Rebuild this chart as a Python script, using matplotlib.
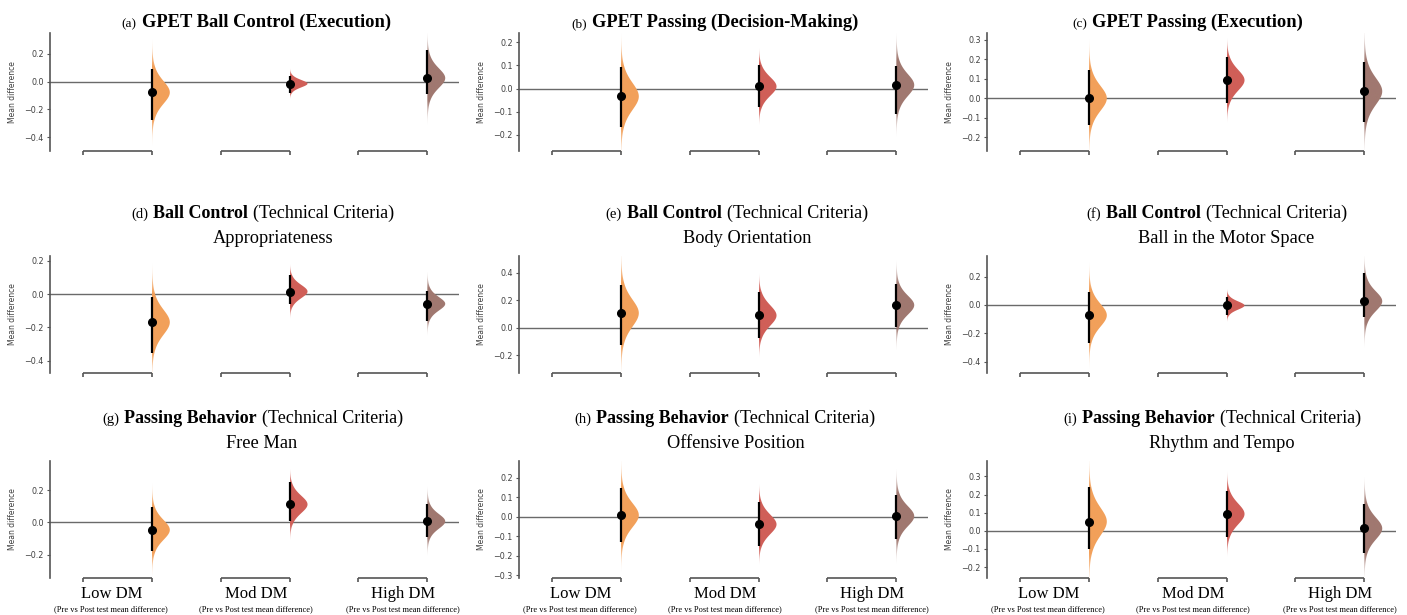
import numpy as np
import matplotlib
matplotlib.use("Agg")
import matplotlib.pyplot as plt
from matplotlib.ticker import MultipleLocator
from matplotlib.patches import Polygon
from matplotlib.colors import to_rgb

# groups and labels
groups = ["Low DM", "Mod DM", "High DM"]
group_note = "(Pre vs Post test mean difference)"
group_colors = ["#F2A05A", "#D05F58", "#A07870"]

panel_tags = ["(a)", "(b)", "(c)", "(d)", "(e)", "(f)", "(g)", "(h)", "(i)"]
title_bold = ["GPET Ball Control (Execution)", "GPET Passing (Decision-Making)",
              "GPET Passing (Execution)", "Ball Control", "Ball Control", "Ball Control",
              "Passing Behavior", "Passing Behavior", "Passing Behavior"]
title_rest = ["", "", "", "(Technical Criteria)", "(Technical Criteria)", "(Technical Criteria)",
              "(Technical Criteria)", "(Technical Criteria)", "(Technical Criteria)"]
subtitles = ["", "", "", "Appropriateness", "Body Orientation", "Ball in the Motor Space",
             "Free Man", "Offensive Position", "Rhythm and Tempo"]

# mean difference and 95% CI per panel (Low, Mod, High)
mean_diff = [
    [-0.078, -0.015, 0.025],
    [-0.034, 0.009, 0.015],
    [0.000, 0.093, 0.036],
    [-0.169, 0.016, -0.058],
    [0.105, 0.088, 0.163],
    [-0.073, -0.004, 0.026],
    [-0.047, 0.111, 0.006],
    [0.007, -0.040, 0.002],
    [0.051, 0.093, 0.013],
]
ci_low = [
    [-0.275, -0.080, -0.087],
    [-0.166, -0.080, -0.112],
    [-0.139, -0.026, -0.119],
    [-0.355, -0.062, -0.163],
    [-0.128, -0.073, 0.005],
    [-0.267, -0.072, -0.084],
    [-0.180, 0.008, -0.089],
    [-0.129, -0.150, -0.117],
    [-0.100, -0.035, -0.122],
]
ci_high = [
    [0.090, 0.040, 0.227],
    [0.095, 0.102, 0.098],
    [0.146, 0.211, 0.186],
    [-0.018, 0.117, 0.018],
    [0.310, 0.260, 0.313],
    [0.091, 0.056, 0.225],
    [0.096, 0.250, 0.113],
    [0.148, 0.075, 0.112],
    [0.243, 0.221, 0.147],
]
y_limits = [(-0.50, 0.35), (-0.27, 0.24), (-0.27, 0.335),
            (-0.475, 0.23), (-0.33, 0.52), (-0.48, 0.345),
            (-0.345, 0.38), (-0.315, 0.285), (-0.26, 0.385)]
y_steps = [0.2, 0.1, 0.1, 0.2, 0.2, 0.2, 0.2, 0.1, 0.1]

# layout in pixels
W, H = 1407, 615
col_left = [50, 519, 987]
ax_width = 409
row_top = [33, 256, 461]
row_bottom = [151, 373, 578]
title_shift = [2, -9, -4, 8, 13, 25, -2, 1, 21]
sub_shift = [0, 0, 0, 19, 24, 35, 7, 12, 30]
label_x = [0.41, 2.51, 4.65]

fig = plt.figure(figsize=(W / 100, H / 100), dpi=100)
renderer = fig.canvas.get_renderer()
serif = "Liberation Serif"


def px_ax(left, top, width, height):
    return [left / W, 1 - (top + height) / H, width / W, height / H]


def rich_line(pieces, cx, base_y):
    # pieces: (text, size, weight); laid out left to right, centred on cx
    texts = [fig.text(0, 0, s, fontsize=fs, fontweight=fw, family=serif,
                      ha="left", va="baseline") for s, fs, fw in pieces]
    widths = [t.get_window_extent(renderer).width for t in texts]
    gaps = [0.28 * fs * 100 / 72 for _, fs, _ in pieces[1:]] + [0]
    total = sum(widths) + sum(gaps)
    x = cx - total / 2
    for t, w, g in zip(texts, widths, gaps):
        t.set_position((x / W, 1 - base_y / H))
        x += w + g


def half_violin(ax, x, mu, lo, hi, color):
    sd = (hi - lo) / 3.92
    z = np.linspace(-4.2, 4.2, 301)
    y = mu + z * sd
    w = 0.26 * (1 + z ** 2 / 5) ** -3
    verts = np.column_stack([np.r_[x + w, np.full_like(w, x)], np.r_[y, y[::-1]]])
    patch = Polygon(verts, closed=True, facecolor="none", edgecolor="none")
    ax.add_patch(patch)
    img = np.zeros((len(z), 1, 4))
    img[..., :3] = to_rgb(color)
    img[:, 0, 3] = np.clip((4.2 - np.abs(z)) / 2.2, 0, 1)
    im = ax.imshow(img, extent=[x, x + 0.3, y[0], y[-1]], origin="lower",
                   aspect="auto", interpolation="bilinear", zorder=2)
    im.set_clip_path(patch)


for p in range(9):
    r, c = divmod(p, 3)
    left = col_left[c]
    top = row_top[r]
    ax = fig.add_axes(px_ax(left, top, ax_width, row_bottom[r] - top))
    ymin, ymax = y_limits[p]

    ax.axhline(0, color="#6a6a6a", lw=1, zorder=1)
    for g in range(3):
        xt = 2 * g + 1
        half_violin(ax, xt, mean_diff[p][g], ci_low[p][g], ci_high[p][g], group_colors[g])
        ax.plot([xt, xt], [ci_low[p][g], ci_high[p][g]], color="black", lw=1.6,
                zorder=3, solid_capstyle="butt")
        ax.plot(xt, mean_diff[p][g], "o", color="black", ms=5.5, zorder=4)
        ax.plot([xt - 1, xt], [ymin, ymin], color="#555555", lw=1.2, clip_on=False,
                solid_capstyle="butt")

    ax.set_xlim(-0.48, 5.46)
    ax.set_ylim(ymin, ymax)
    ax.yaxis.set_major_locator(MultipleLocator(y_steps[p]))
    ax.set_xticks(range(6))
    ax.set_xticklabels([])
    for side in ["top", "right", "bottom"]:
        ax.spines[side].set_visible(False)
    ax.spines["left"].set_color("#555555")
    ax.spines["left"].set_linewidth(1.2)
    ax.tick_params(axis="y", labelsize=5.8, labelcolor="#404040", length=2.5,
                   width=0.8, color="#555555", pad=2)
    ax.tick_params(axis="x", length=3, width=1.2, color="#555555")
    ax.set_ylabel("Mean difference", fontsize=5.5, color="#404040", labelpad=5)
    ax.patch.set_visible(False)

    cx = left + ax_width / 2
    if r == 0:
        rich_line([(panel_tags[p], 9.5, "normal"), (title_bold[p], 13.3, "bold")],
                  cx + title_shift[p], top - 6)
    else:
        rich_line([(panel_tags[p], 10.5, "normal"), (title_bold[p], 13, "bold"),
                   (title_rest[p], 13, "normal")],
                  cx + title_shift[p], top - 38)
        fig.text((cx + sub_shift[p]) / W, 1 - (top - 13) / H, subtitles[p],
                 fontsize=13.2, family=serif, ha="center", va="baseline")

    if r == 2:
        for g in range(3):
            xp = ax.transData.transform((label_x[g], 0))[0]
            fig.text(xp / W, 1 - 598 / H, groups[g], fontsize=12, family=serif,
                     ha="center", va="baseline")
            fig.text(xp / W, 1 - 611.5 / H, group_note, fontsize=6, family=serif,
                     ha="center", va="baseline")

fig.savefig("out.png", dpi=100)
